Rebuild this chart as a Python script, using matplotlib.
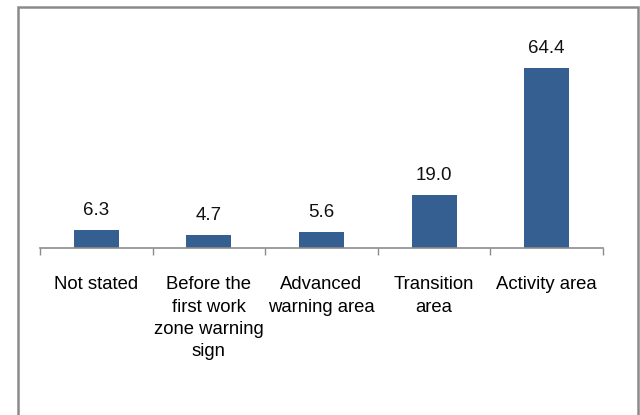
import matplotlib.pyplot as plt
from matplotlib.patches import Rectangle

plt.rcParams['font.family'] = ['Liberation Sans', 'DejaVu Sans']

# location of the crash relative to the work zone (%)
categories = ["Not stated", "Before the\nfirst work\nzone warning\nsign",
              "Advanced\nwarning area", "Transition\narea", "Activity area"]
values = [6.3, 4.7, 5.6, 19.0, 64.4]
value_labels = ["6.3", "4.7", "5.6", "19.0", "64.4"]

fig = plt.figure(figsize=(6.4, 4.15), dpi=100)
ax = fig.add_axes([0.0625, 0.4024, 0.8797, 0.4713])

x = range(len(categories))
bars = ax.bar(x, values, width=0.4, color="#365F91")

for b, lab in zip(bars, value_labels):
    ax.text(b.get_x() + b.get_width() / 2, b.get_height() + 4.0, lab,
            ha="center", va="bottom", fontsize=13.5, color="#111111")

ax.set_xlim(-0.5, len(categories) - 0.5)
ax.set_ylim(0, 70)
ax.set_xticks(list(x))
ax.set_xticklabels(categories, fontsize=13.3, linespacing=1.4, va="top")
ax.tick_params(axis="x", which="major", length=0, pad=20.5)
ax.set_xticks([i - 0.5 for i in range(len(categories) + 1)], minor=True)
ax.tick_params(axis="x", which="minor", length=5, width=1, color="#8c8c8c",
               direction="out")
ax.set_yticks([])

for s in ["top", "right", "left"]:
    ax.spines[s].set_visible(False)
ax.spines["bottom"].set_color("#8c8c8c")
ax.spines["bottom"].set_linewidth(1.2)

# outer frame
fig.patches.append(Rectangle((18 / 640, -0.05), 620 / 640, 1 - 7 / 415 + 0.05,
                             transform=fig.transFigure, fill=False,
                             edgecolor="#8a8a8a", linewidth=1.8))

fig.savefig("out.png", dpi=100)
